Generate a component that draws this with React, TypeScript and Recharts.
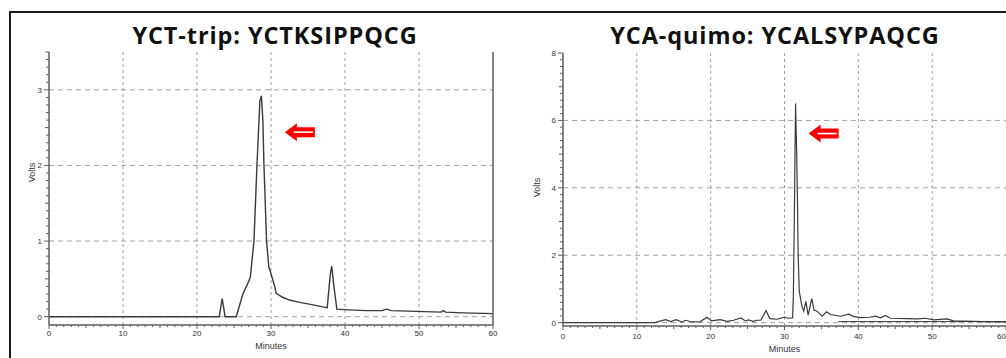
import { LineChart, Line, XAxis, YAxis, ReferenceLine, ReferenceDot } from 'recharts'

// left trace: YCT-trip
const tripMinutes = [0, 20, 23.0, 23.4, 23.8, 25.3, 26.2, 27.0, 27.2, 27.7, 28.1, 28.5, 28.7, 28.9, 29.05, 29.4, 29.7, 29.9, 30.2, 30.5, 30.7, 31.5, 32.5, 33.9, 35.5, 37.0, 37.6, 38.0, 38.2, 38.5, 38.9, 40.5, 42.9, 45.0, 45.6, 46.3, 49.6, 53.0, 53.3, 53.6, 56, 60]
const tripVolts = [0, 0, 0, 0.24, 0, 0, 0.3, 0.47, 0.52, 1.0, 2.0, 2.85, 2.92, 2.6, 2.0, 1.0, 0.66, 0.6, 0.5, 0.4, 0.31, 0.26, 0.22, 0.19, 0.16, 0.13, 0.12, 0.55, 0.67, 0.4, 0.1, 0.09, 0.08, 0.08, 0.1, 0.08, 0.07, 0.06, 0.08, 0.06, 0.05, 0.04]

// right trace: YCA-quimo
const quimoMinutes = [0, 12.4, 13.9, 14.6, 15.3, 16.1, 16.6, 17.4, 18.6, 19.5, 20.1, 21.3, 22.2, 23.1, 24.1, 24.7, 25.1, 25.8, 26.2, 26.8, 27.5, 28.0, 29.0, 29.96, 30.5, 31.1, 31.2, 31.35, 31.5, 31.65, 31.75, 31.85, 32.0, 32.35, 32.6, 32.9, 33.2, 33.7, 34.0, 34.4, 35.1, 35.7, 36.2, 37.6, 38.7, 39.4, 40.3, 41.6, 42.3, 43.0, 43.7, 44.3, 46.6, 48.0, 49.1, 50.2, 52.0, 52.9, 55.6, 57.0, 60]
const quimoVolts = [0, 0, 0.09, 0.03, 0.09, 0.02, 0.07, 0.02, 0.03, 0.16, 0.05, 0.09, 0.04, 0.07, 0.14, 0.05, 0.08, 0.04, 0.07, 0.07, 0.36, 0.12, 0.1, 0.16, 0.13, 0.14, 0.8, 3.5, 6.5, 5.0, 3.7, 2.0, 0.93, 0.49, 0.34, 0.63, 0.22, 0.71, 0.37, 0.34, 0.19, 0.32, 0.24, 0.19, 0.25, 0.18, 0.15, 0.16, 0.19, 0.14, 0.21, 0.13, 0.12, 0.11, 0.13, 0.08, 0.11, 0.05, 0.04, 0.03, 0.02]
const quimoBlankMinutes = [37.3, 60]
const quimoBlankVolts = [0.03, 0.03]

const minuteLabels = [0, 10, 20, 30, 40, 50, 60]
const minuteGrid = [10, 20, 30, 40, 50]
const tripVoltLabels = [0, 1, 2, 3]
const quimoVoltLabels = [0, 2, 4, 6, 8]
const quimoGrid = [0, 2, 4, 6]

const tripData = tripMinutes.map((m, i) => ({ m, v: tripVolts[i] }))
const quimoData = quimoMinutes.map((m, i) => ({ m, v: quimoVolts[i] }))
const quimoBlank = quimoBlankMinutes.map((m, i) => ({ m, v: quimoBlankVolts[i] }))

const steps = (max: number, step: number) => {
  const out: number[] = []
  for (let i = 0; i * step <= max + 1e-9; i++) out.push(Math.round(i * step * 100) / 100)
  return out
}

const near = (a: number) => Math.abs(a - Math.round(a)) < 1e-6
const tickText = { fontFamily: '"Liberation Sans", Arial, sans-serif', fontSize: 8, fill: '#333' }
const axisGray = '#5e5e5e'

function makeYTick(majorStep: number, labels: number[], side: 'left' | 'right') {
  return (props: any) => {
    const { x, y, payload } = props
    const v = payload.value as number
    const major = near(v / majorStep)
    const mid = !major && near(v / (majorStep / 2))
    const len = major ? 5 : mid ? 4 : 3
    const dir = side === 'left' ? -1 : 1
    const showLabel = side === 'left' && labels.some((l) => Math.abs(l - v) < 1e-6)
    return (
      <g>
        <line x1={x} x2={x + dir * len} y1={y} y2={y} stroke={axisGray} strokeWidth={1} />
        {showLabel && (
          <text x={x - 7} y={y + 3} textAnchor="end" {...tickText}>{v}</text>
        )}
      </g>
    )
  }
}

function makeXTick(dy: number, lastEnd: boolean) {
  return (props: any) => {
    const { x, y, payload } = props
    const v = payload.value as number
    const major = v % 10 === 0
    const mid = !major && v % 5 === 0
    const len = major ? 4 : mid ? 3 : 2
    const anchor = lastEnd && v === 60 ? 'end' : 'middle'
    return (
      <g>
        <line x1={x} x2={x} y1={y} y2={y + len} stroke={axisGray} strokeWidth={1} />
        {minuteLabels.includes(v) && (
          <text x={x} y={y + dy} textAnchor={anchor} {...tickText}>{v}</text>
        )}
      </g>
    )
  }
}

function Arrow(props: any) {
  const { cx, cy } = props
  const pts = [
    [cx - 15, cy], [cx - 3, cy - 9], [cx - 3, cy - 5], [cx + 15, cy - 5],
    [cx + 15, cy + 5], [cx - 3, cy + 5], [cx - 3, cy + 9],
  ].map((p) => p.join(',')).join(' ')
  return (
    <g>
      <polygon points={pts} fill="#ff0000" />
      <line x1={cx - 6} x2={cx + 13} y1={cy} y2={cy} stroke="#fff" strokeWidth={1.6} />
    </g>
  )
}

const voltsLabel = (dx: number, dy: number) => (p: any) => {
  const vb = p.viewBox
  const x = vb.x + dx
  const y = vb.y + vb.height / 2 + dy
  return (
    <text x={x} y={y} transform={`rotate(-90, ${x}, ${y})`} textAnchor="middle" dominantBaseline="middle"
      fontFamily='"Liberation Sans", Arial, sans-serif' fontSize={9} fill="#333">Volts</text>
  )
}

const minutesLabel = (dy: number) => (p: any) => {
  const vb = p.viewBox
  return (
    <text x={vb.x + vb.width / 2} y={vb.y + dy} textAnchor="middle"
      fontFamily='"Liberation Sans", Arial, sans-serif' fontSize={9} fill="#333">Minutes</text>
  )
}

const titleStyle: React.CSSProperties = {
  position: 'absolute', top: 20, width: 400, textAlign: 'center',
  fontFamily: '"Open Sans", Lato, sans-serif', fontWeight: 700, fontSize: 23.5, lineHeight: '30px', color: '#111',
  letterSpacing: 0.9, whiteSpace: 'nowrap',
}

export default function App() {
  return (
    <div style={{ position: 'absolute', left: 0, top: 0, width: 1006, height: 358, background: '#fff', overflow: 'hidden' }}>
      <div style={{ position: 'absolute', left: 9, top: 11, width: 1006, height: 400, borderTop: '2px solid #1a1a1a', borderLeft: '2px solid #1a1a1a' }} />
      <div style={{ ...titleStyle, left: 75 }}>YCT-trip: YCTKSIPPQCG</div>
      <div style={{ ...titleStyle, left: 575 }}>YCA-quimo: YCALSYPAQCG</div>

      <div style={{ position: 'absolute', left: 0, top: 0 }}>
        <LineChart width={500} height={358} data={tripData} margin={{ top: 52, right: 0, bottom: 3, left: 0 }}>
          <XAxis dataKey="m" type="number" domain={[0, 60]} ticks={steps(60, 1)} interval={0}
            tick={makeXTick(11, false)} tickSize={0} tickMargin={0} height={30}
            axisLine={{ stroke: axisGray, strokeWidth: 1.5 }} label={{ content: minutesLabel(24) }} />
          <XAxis xAxisId="top" orientation="top" type="number" domain={[0, 60]} tick={false} tickLine={false} height={0}
            axisLine={{ stroke: '#8a8a8a', strokeWidth: 2 }} />
          <YAxis type="number" domain={[-0.11, 3.5]} ticks={steps(3.5, 0.1)} interval={0} width={49}
            tick={makeYTick(1, tripVoltLabels, 'left')} tickSize={0} tickMargin={0}
            axisLine={{ stroke: axisGray, strokeWidth: 1.5 }} label={{ content: voltsLabel(33, -16) }} />
          <YAxis yAxisId="r" orientation="right" type="number" domain={[-0.11, 3.5]} ticks={steps(3.5, 0.1)} interval={0} width={7}
            tick={makeYTick(1, tripVoltLabels, 'right')} tickSize={0} tickMargin={0}
            axisLine={{ stroke: axisGray, strokeWidth: 1.5 }} />
          {minuteGrid.map((m) => (
            <ReferenceLine key={'x' + m} x={m} stroke="#a0a0a0" strokeDasharray="3 3" />
          ))}
          {tripVoltLabels.map((v) => (
            <ReferenceLine key={'y' + v} y={v} stroke="#a0a0a0" strokeDasharray="5 4" />
          ))}
          <Line type="linear" dataKey="v" stroke="#3a3a3a" strokeWidth={1.4} dot={false} isAnimationActive={false} />
          <ReferenceDot x={33.9} y={2.44} shape={Arrow} />
        </LineChart>
      </div>

      <div style={{ position: 'absolute', left: 500, top: 0 }}>
        <LineChart width={506} height={358} margin={{ top: 53, right: 0, bottom: 2, left: 0 }}>
          <XAxis dataKey="m" type="number" domain={[0, 60]} ticks={steps(60, 1)} interval={0}
            tick={makeXTick(13, true)} tickSize={0} tickMargin={0} height={30}
            axisLine={{ stroke: axisGray, strokeWidth: 1.5 }} label={{ content: minutesLabel(26) }} />
          <XAxis xAxisId="top" orientation="top" type="number" domain={[0, 60]} tick={false} tickLine={false} height={0}
            axisLine={{ stroke: '#8a8a8a', strokeWidth: 2 }} />
          <YAxis type="number" domain={[-0.1, 8]} ticks={steps(8, 0.2)} interval={0} width={63}
            tick={makeYTick(2, quimoVoltLabels, 'left')} tickSize={0} tickMargin={0}
            axisLine={{ stroke: axisGray, strokeWidth: 1.5 }} label={{ content: voltsLabel(38, -2) }} />
          {minuteGrid.map((m) => (
            <ReferenceLine key={'x' + m} x={m} stroke="#a0a0a0" strokeDasharray="3 3" />
          ))}
          {quimoGrid.map((v) => (
            <ReferenceLine key={'y' + v} y={v} stroke="#a0a0a0" strokeDasharray="5 4" />
          ))}
          <Line data={quimoBlank} type="linear" dataKey="v" stroke="#3a3a3a" strokeWidth={1} dot={false} isAnimationActive={false} />
          <Line data={quimoData} type="linear" dataKey="v" stroke="#3a3a3a" strokeWidth={1.2} dot={false} isAnimationActive={false} />
          <ReferenceDot x={35.3} y={5.61} shape={Arrow} />
        </LineChart>
      </div>
    </div>
  )
}
